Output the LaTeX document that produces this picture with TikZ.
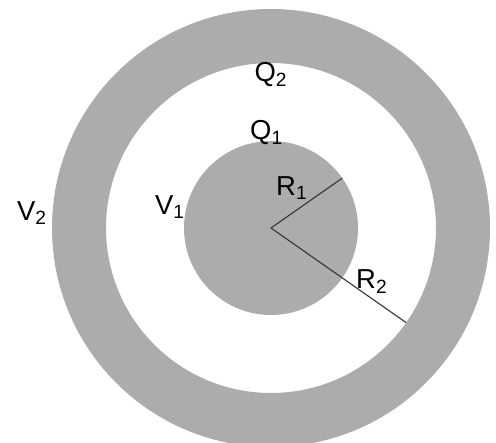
\documentclass[tikz,border=0pt]{standalone}
\usepackage{fontspec}
\setmainfont{Liberation Sans}
\usepackage{tikz}
\usetikzlibrary{positioning}
\definecolor{shellgray}{RGB}{172,172,172}
\definecolor{radline}{RGB}{55,55,55}

\begin{document}
\begin{tikzpicture}[lbl/.style={font=\fontsize{19.5}{23}\selectfont,inner sep=1pt}]
\useasboundingbox (-6.775,-5.375) rectangle (5.625,5.7);
\fill[shellgray,even odd rule] (0,0) circle (5.475) circle (4.125);
\node[circle,fill=shellgray,minimum size=4.35cm,inner sep=0pt,outer sep=0pt] (core) at (0,0) {};
\coordinate (o) at (0,0);
\coordinate (rim) at (-35:4.125);
\draw[radline,line width=0.8pt] (o)--(core.35);
\draw[radline,line width=0.8pt] (o)--(rim);
\node[lbl] (q2) at (0,3.825) {Q\textsubscript{2}};
\node[lbl] (q1) at (-0.11,2.375) {Q\textsubscript{1}};
\node[lbl] (v2) at (-5.975,0.375) {V\textsubscript{2}};
\node[lbl] (v1) at (-2.525,0.525) {V\textsubscript{1}};
\node[lbl] (r1) at (0.52,1.0) {R\textsubscript{1}};
\node[lbl] (r2) at (2.52,-1.34) {R\textsubscript{2}};
\end{tikzpicture}
\end{document}
